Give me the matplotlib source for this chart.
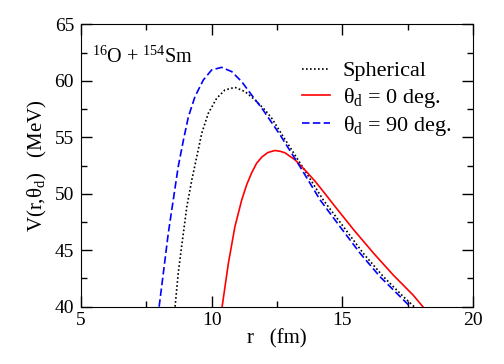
import matplotlib
matplotlib.use('Agg')
import matplotlib.pyplot as plt
from matplotlib.ticker import MultipleLocator

plt.rcParams['font.family'] = ['Liberation Serif', 'DejaVu Serif']
plt.rcParams['mathtext.fontset'] = 'custom'
plt.rcParams['mathtext.rm'] = 'Liberation Serif'
plt.rcParams['mathtext.it'] = 'Liberation Serif:italic'

# values (r in fm, V in MeV)
r_sph = [8.6, 8.72, 8.85, 9.05, 9.24, 9.43, 9.62, 9.87, 10.19, 10.51, 10.89,
         11.28, 11.66, 12.04, 12.3, 12.74, 13.51, 14.27, 15.04, 15.8, 16.57,
         17.33, 17.75]
v_sph = [40.0, 42.96, 45.32, 48.86, 51.22, 53.28, 55.35, 57.12, 58.45, 59.19,
         59.42, 59.04, 58.3, 57.42, 56.68, 55.05, 52.26, 49.45, 47.09, 44.73,
         42.66, 40.9, 40.0]

r_0 = [10.4, 10.64, 10.89, 11.15, 11.34, 11.53, 11.72, 11.92, 12.15, 12.42,
       12.62, 12.81, 13.19, 13.57, 13.96, 14.34, 14.66, 15.42, 16.19, 16.95,
       17.72, 18.08]
v_0 = [40.0, 43.85, 47.09, 49.45, 50.8, 51.85, 52.7, 53.25, 53.65, 53.83,
       53.76, 53.62, 53.0, 52.1, 51.1, 50.0, 49.05, 46.85, 44.75, 42.8,
       41.0, 40.0]

r_90 = [7.99, 8.15, 8.34, 8.53, 8.72, 8.92, 9.11, 9.36, 9.68, 10.0, 10.38,
        10.77, 11.15, 11.53, 11.92, 12.36, 12.62, 13.38, 14.15, 14.91, 15.68,
        16.44, 17.21, 17.6]
v_90 = [40.0, 42.96, 46.5, 49.45, 52.4, 54.76, 56.82, 58.59, 60.07, 60.96,
        61.19, 60.81, 59.92, 58.74, 57.57, 56.09, 55.2, 52.4, 49.45, 47.09,
        44.73, 42.66, 40.9, 40.0]

fig = plt.figure(figsize=(5.04, 3.64), dpi=100)
ax = fig.add_axes([0.1607, 0.1574, 0.7778, 0.7758])

ax.plot(r_sph, v_sph, color='black', linestyle=(0, (1, 1.4)), linewidth=1.2, label='Spherical')
ax.plot(r_0, v_0, color='red', linestyle='-', linewidth=1.2, label='θ$_{\\rm d}$ = 0 deg.')
ax.plot(r_90, v_90, color='blue', linestyle=(0, (4.5, 2)), linewidth=1.2, label='θ$_{\\rm d}$ = 90 deg.')

ax.set_xlim(5, 20)
ax.set_ylim(40, 65)
ax.xaxis.set_major_locator(MultipleLocator(5))
ax.xaxis.set_minor_locator(MultipleLocator(2.5))
ax.yaxis.set_major_locator(MultipleLocator(5))
ax.yaxis.set_minor_locator(MultipleLocator(2.5))
ax.tick_params(which='both', direction='in', top=True, right=True, labelsize=14)
ax.tick_params(which='major', length=8, width=1)
ax.tick_params(which='minor', length=4.3, width=1)
ax.tick_params(axis='y', pad=5)
ax.tick_params(axis='x', pad=4)

ax.set_xlabel('r   (fm)', fontsize=15, labelpad=0)
ax.set_ylabel('V(r,θ$_{\\rm d}$)   (MeV)', fontsize=15, labelpad=4)

ax.text(0.027, 0.885, r'$^{16}$O + $^{154}$Sm', transform=ax.transAxes, fontsize=14.5,
        ha='left', va='center')

ax.legend(loc='upper left', bbox_to_anchor=(0.563, 0.871), frameon=False, fontsize=16,
          borderpad=0, borderaxespad=0, handlelength=1.27, handletextpad=0.57,
          labelspacing=0.2)

fig.savefig('out.png', dpi=100)
